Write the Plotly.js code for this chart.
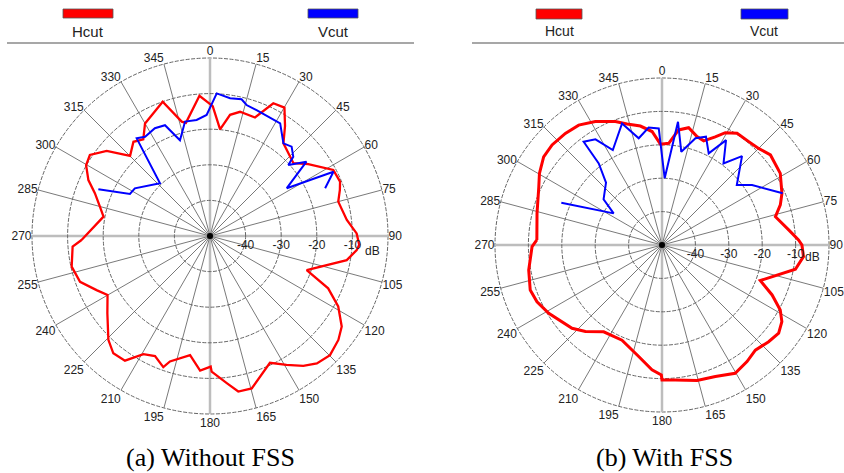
<!DOCTYPE html>
<html>
<head>
<meta charset="utf-8">
<script src="https://cdn.plot.ly/plotly-3.0.1.min.js"></script>
<style>html,body{margin:0;padding:0;background:#fff;}#chart{width:844px;height:473px;}</style>
</head>
<body>
<div id="chart"></div>
<script>
// ---------- data ----------
var angularTicks = [0,15,30,45,60,75,90,105,120,135,150,165,180,195,210,225,240,255,270,285,300,315,330,345];
var radialTicks = [-40,-30,-20,-10];
var radialTickText = ['-40','-30','-20','-10'];
var radialRange = [-50,0];

// (a) Without FSS - Hcut
var leftHTheta = [268.2,280.3,284.9,290.4,294.7,299.8,304.0,309.5,315.1,320.9,325.4,330.0,340.6,346.1,348.0,355.7,1.2,5.4,9.4,13.6,20.8,25.5,30.1,34.3,38.4,48.9,53.8,61.8,67.3,70.5,75.0,83.3,89.0,93.4,95.5,100.0,109.4,113.9,118.8,124.5,129.0,134.8,140.0,144.3,149.3,154.7,164.7,169.7,173.5,179.3,179.7,184.2,189.5,197.7,199.6,204.6,209.4,214.3,219.5,224.4,233.0,240.1,244.5,250.6,257.5,265.6,268.2];
var leftHR = [-13.9,-19.6,-18.0,-15.5,-12.4,-9.9,-9.3,-12.4,-18.2,-15.9,-17.0,-13.5,-10.0,-16.9,-17.5,-10.5,-13.5,-19.9,-15.5,-14.1,-14.4,-8.7,-8.3,-12.6,-16.8,-18.9,-15.8,-10.7,-10.4,-11.3,-12.7,-11.3,-8.8,-8.0,-8.6,-11.0,-21.2,-13.7,-8.9,-5.1,-3.6,-2.5,-3.3,-5.1,-7.9,-10.6,-5.6,-5.6,-8.4,-11.9,-13.3,-12.1,-16.1,-13.0,-10.9,-12.9,-11.9,-7.6,-7.3,-9.2,-13.9,-16.8,-14.7,-11.3,-10.2,-11.3,-13.9];
// (a) Without FSS - Vcut
var leftVTheta = [292.7,297.7,302.4,316.5,323.1,326.8,332.9,337.9,342.6,347.7,353.4,358.4,2.7,8.3,13.0,15.6,20.3,31.9,38.4,42.4,46.4,47.8,52.4,58.1,62.5,67.5];
var leftVR = [-16.0,-24.6,-25.0,-29.6,-15.7,-16.7,-16.0,-16.4,-21.8,-17.1,-17.2,-16.0,-9.9,-10.9,-10.6,-11.8,-12.3,-12.7,-16.8,-16.0,-17.7,-20.3,-15.8,-24.6,-10.9,-15.0];

// (b) With FSS - Hcut
var rightHTheta = [272.3,284.2,295.3,300.3,306.7,312.3,319.1,325.2,331.6,339.3,343.9,349.7,355.0,359.1,3.8,8.2,12.8,17.9,21.8,26.2,29.4,33.9,40.0,45.0,50.3,58.8,66.7,71.3,76.0,83.2,87.9,90.0,94.7,100.3,109.9,114.4,118.8,122.6,127.1,132.2,138.4,143.9,150.3,157.9,165.5,174.4,180.0,180.3,184.6,191.8,202.8,213.9,221.5,227.2,238.9,245.6,251.1,259.4,269.3,272.3];
var rightHR = [-12.5,-11.4,-9.2,-7.5,-5.8,-5.5,-5.8,-6.3,-8.0,-10.5,-12.3,-13.8,-15.9,-19.8,-19.5,-15.2,-14.0,-15.9,-16.4,-13.9,-11.4,-9.7,-9.6,-9.1,-7.8,-8.6,-10.9,-12.6,-15.0,-11.8,-9.1,-8.1,-7.5,-9.4,-18.7,-13.8,-9.6,-7.4,-6.2,-6.9,-7.9,-6.8,-5.8,-7.5,-8.1,-9.4,-9.6,-11.1,-12.5,-15.9,-19.1,-18.7,-15.4,-13.3,-10.4,-8.9,-8.3,-9.4,-11.1,-12.5];
// (b) With FSS - Vcut
var rightVTheta = [292.8,303.2,308.0,318.1,322.2,322.8,327.8,332.6,341.8,347.7,353.5,358.4,2.3,7.4,11.7,17.4,22.1,27.0,31.4,37.0,42.0,51.3,56.3,66.8];
var rightVR = [-17.3,-32.7,-27.8,-24.9,-19.1,-11.2,-12.6,-18.0,-11.7,-17.3,-14.6,-15.1,-30.0,-12.8,-21.5,-16.5,-15.0,-19.2,-13.2,-19.4,-14.2,-21.3,-17.6,-10.7];

var legendNames = ['Hcut','Vcut'];
var captions = ['(a) Without FSS','(b) With FSS'];
var unitLabel = 'dB';

// ---------- layout helpers ----------
var W = 844, H = 473;
function px(x){ return x / W; }
function py(y){ return 1 - y / H; }

var tickFont = {family:'Liberation Sans, Arial, sans-serif', size:12, color:'#222'};
var majorTicks = angularTicks.filter(function(t){ return t % 90 === 0; });
var minorTicks = angularTicks.filter(function(t){ return t % 90 !== 0; });
var ringDash = '4px,1.5px';

function basePolar(dom){
  return {
    domain: dom,
    bgcolor: 'rgba(0,0,0,0)',
    angularaxis: {
      rotation: 90, direction: 'clockwise',
      tickmode: 'array', tickvals: majorTicks, ticktext: majorTicks.map(String),
      ticks: '', showline: false, tickfont: tickFont,
      showgrid: true, gridcolor: '#bdbdbd', gridwidth: 2.5
    },
    radialaxis: { range: radialRange, visible: false }
  };
}
function mainPolar(dom){
  return {
    domain: dom,
    bgcolor: 'rgba(0,0,0,0)',
    angularaxis: {
      rotation: 90, direction: 'clockwise',
      tickmode: 'array', tickvals: minorTicks, ticktext: minorTicks.map(String),
      ticks: '', showline: false, tickfont: tickFont,
      showgrid: true, gridcolor: '#6a6a6a', gridwidth: 0.9
    },
    radialaxis: {
      range: radialRange, angle: 0, side: 'clockwise',
      tickmode: 'array', tickvals: radialTicks, ticktext: radialTickText,
      ticks: '', showline: false, tickfont: tickFont,
      showgrid: true, gridcolor: '#666', gridwidth: 1, griddash: ringDash
    }
  };
}

var leftDom = {x:[px(32), px(388)], y:[py(414), py(58)]};
var rightDom = {x:[px(495), px(829)], y:[py(412), py(78)]};

var traces = [
  {type:'scatterpolar', subplot:'polar', r:[], theta:[], mode:'lines', showlegend:false, hoverinfo:'skip'},
  {type:'scatterpolar', subplot:'polar3', r:[], theta:[], mode:'lines', showlegend:false, hoverinfo:'skip'},
  {type:'scatterpolar', subplot:'polar2', r:leftHR, theta:leftHTheta, mode:'lines', name:legendNames[0], line:{color:'#ff0000', width:2.3}, showlegend:false},
  {type:'scatterpolar', subplot:'polar2', r:leftVR, theta:leftVTheta, mode:'lines', name:legendNames[1], line:{color:'#0000ff', width:2}, showlegend:false},
  {type:'scatterpolar', subplot:'polar4', r:rightHR, theta:rightHTheta, mode:'lines', name:legendNames[0], line:{color:'#ff0000', width:3}, showlegend:false},
  {type:'scatterpolar', subplot:'polar4', r:rightVR, theta:rightVTheta, mode:'lines', name:legendNames[1], line:{color:'#0000ff', width:2}, showlegend:false}
];

function rect(x0,x1,y0,y1,color){
  return {type:'rect', xref:'paper', yref:'paper', x0:px(x0), x1:px(x1), y0:py(y1), y1:py(y0),
          fillcolor:color, line:{color:'#555', width:0.8}};
}
function hline(x0,x1,y){
  return {type:'line', xref:'paper', yref:'paper', x0:px(x0), x1:px(x1), y0:py(y), y1:py(y),
          line:{color:'#8a8a8a', width:1.5}};
}
function dot(x,y){
  return {type:'circle', xref:'paper', yref:'paper', x0:px(x-3), x1:px(x+3), y0:py(y+3), y1:py(y-3),
          fillcolor:'#000', line:{color:'#000', width:0}};
}
function ring(dom){
  return {type:'circle', xref:'paper', yref:'paper', layer:'below', x0:dom.x[0], x1:dom.x[1], y0:dom.y[0], y1:dom.y[1],
          fillcolor:'rgba(0,0,0,0)', line:{color:'#666', width:1, dash:ringDash}};
}
function txt(t,x,y,size,family){
  return {text:t, xref:'paper', yref:'paper', x:px(x), y:py(y), xanchor:'center', yanchor:'middle',
          showarrow:false, font:{family:family||'Liberation Sans, Arial, sans-serif', size:size, color:'#222'}};
}

var layout = {
  width: W, height: H,
  margin: {l:0, r:0, t:0, b:0},
  paper_bgcolor: '#fff',
  plot_bgcolor: 'rgba(0,0,0,0)',
  showlegend: false,
  polar: basePolar(leftDom),
  polar2: mainPolar(leftDom),
  polar3: basePolar(rightDom),
  polar4: mainPolar(rightDom),
  shapes: [
    ring(leftDom), ring(rightDom),
    rect(63,113,9,18,'#ff0000'), rect(308,358,9,18,'#0000ff'), hline(7,414,43),
    rect(536,582,9,19,'#ff0000'), rect(741,788,9,19,'#0000ff'), hline(472,844,43),
    dot(210,236), dot(662,245)
  ],
  annotations: [
    txt(legendNames[0],88,32,15), txt(legendNames[1],333,32,15),
    txt(legendNames[0],559,31,14), txt(legendNames[1],764,31,14),
    txt(unitLabel,372,251,12), txt(unitLabel,812,257,12),
    {text:captions[0], xref:'paper', yref:'paper', x:px(210), y:py(457), xanchor:'center', yanchor:'middle', showarrow:false, font:{family:'Liberation Serif, Times New Roman, serif', size:26, color:'#000'}},
    {text:captions[1], xref:'paper', yref:'paper', x:px(664), y:py(457), xanchor:'center', yanchor:'middle', showarrow:false, font:{family:'Liberation Serif, Times New Roman, serif', size:26, color:'#000'}}
  ]
};

Plotly.newPlot('chart', traces, layout, {staticPlot:true, displayModeBar:false});
</script>
</body>
</html>
